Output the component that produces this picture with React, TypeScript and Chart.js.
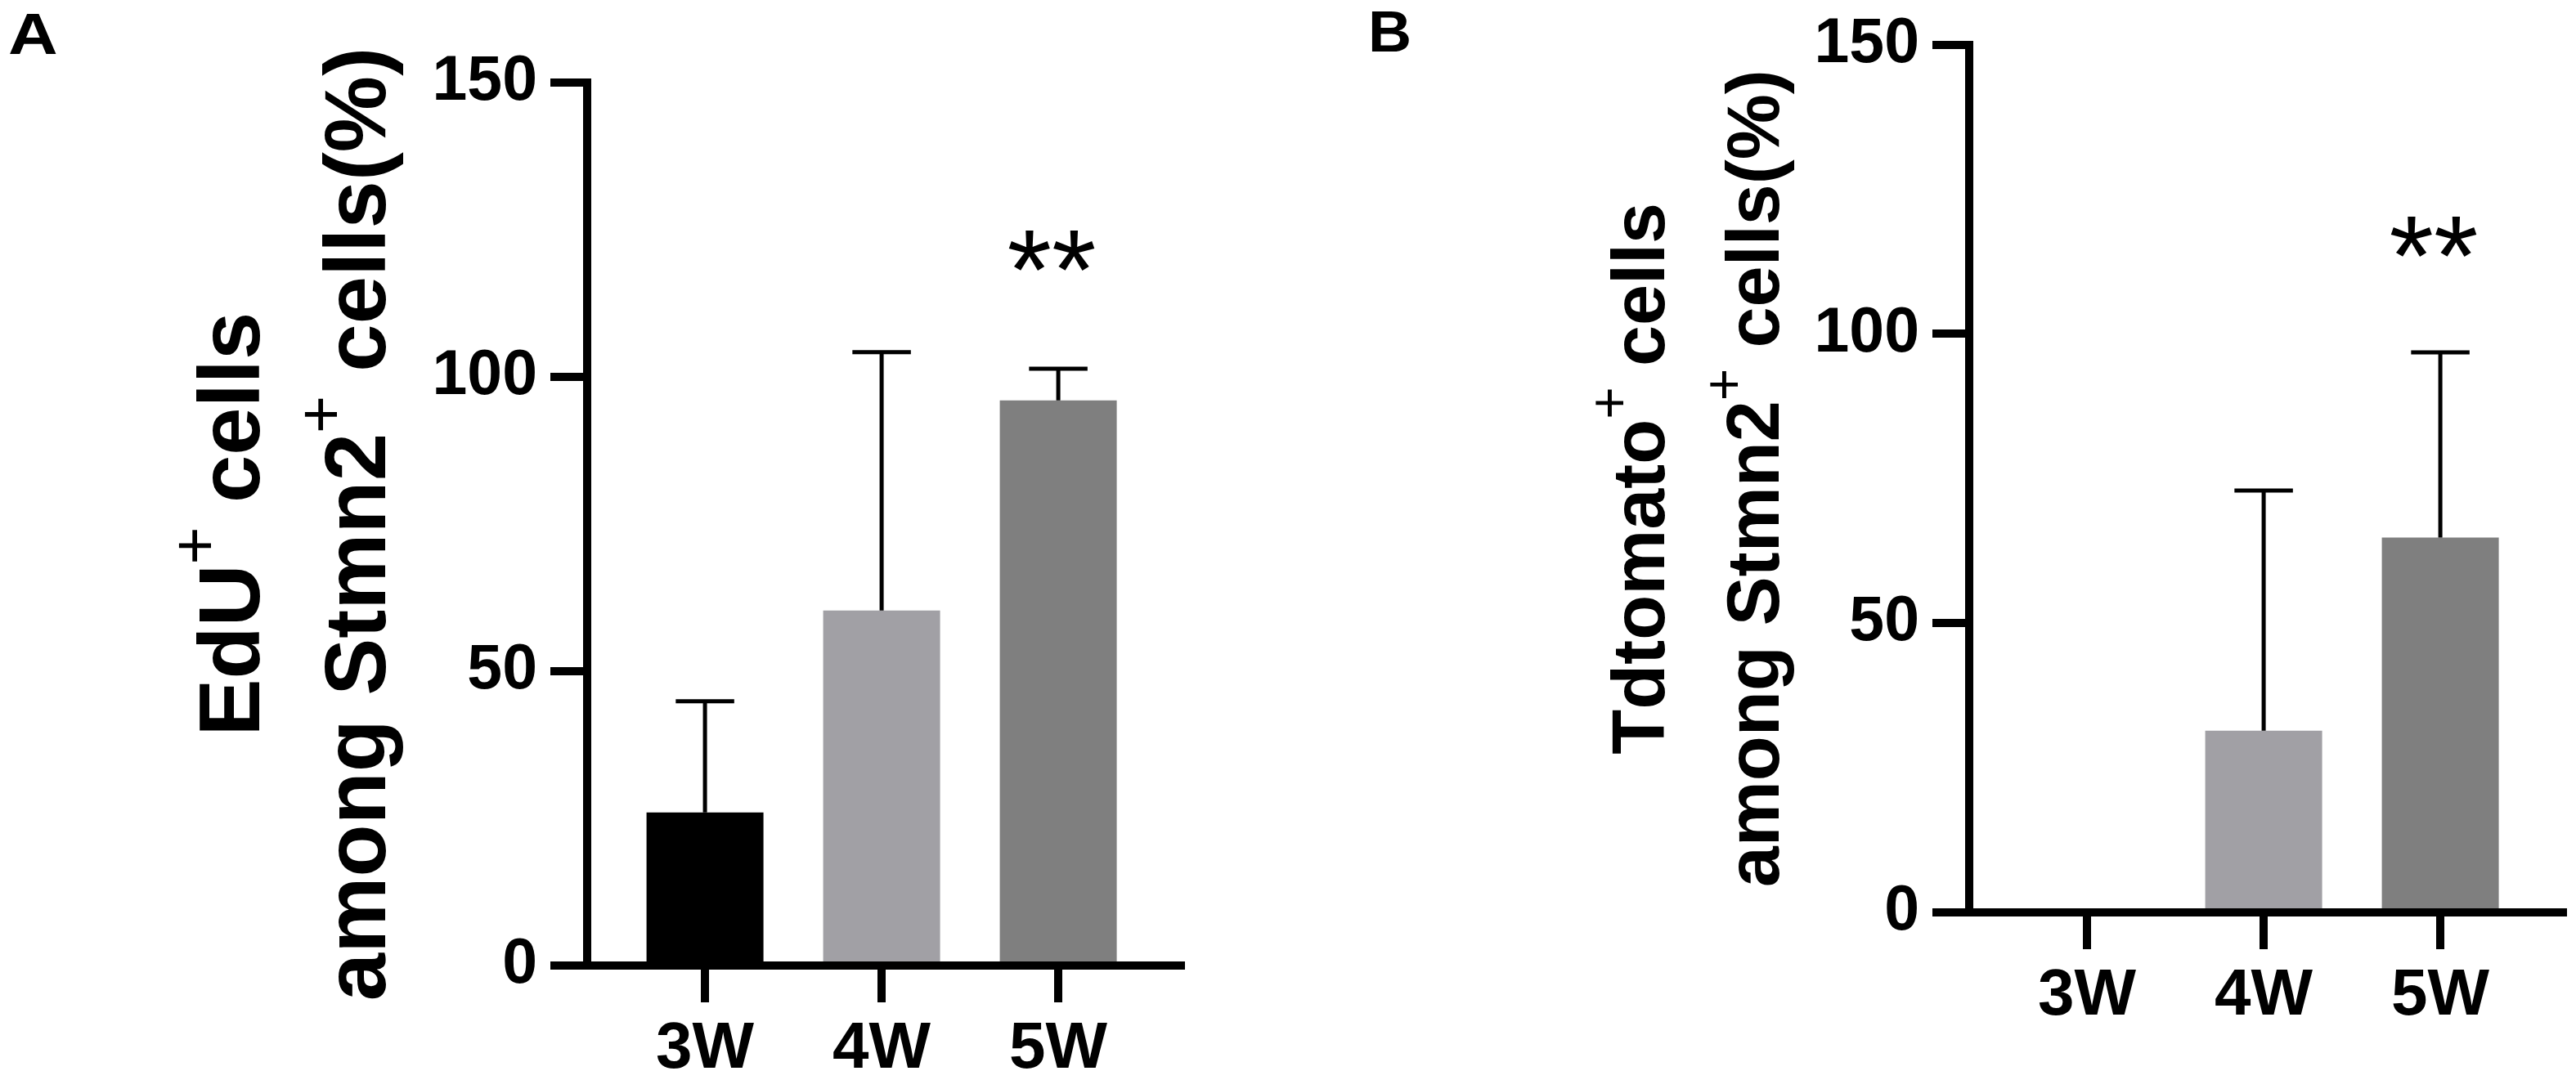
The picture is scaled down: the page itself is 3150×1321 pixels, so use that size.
import React, { useEffect, useRef } from 'react';
import { Chart, registerables } from 'chart.js';

Chart.register(...registerables);

// ---------- data ----------
const categories = ['3W', '4W', '5W'];
const yTicks = [0, 50, 100, 150];

const eduValues = [26, 60.3, 96];
const eduSD = [18.9, 43.9, 5.4];
const eduSig = ['', '', '**'];
const eduTitle = ['EdU⁺ cells', 'among Stmn2⁺ cells(%)'];

const tdValues = [0, 31.4, 64.8];
const tdSD = [0, 41.5, 32];
const tdSig = ['', '', '**'];
const tdTitle = ['Tdtomato⁺ cells', 'among Stmn2⁺ cells(%)'];

const barColors = ['#000000', '#a1a0a5', '#7f7f7f'];

const FONT = '"Liberation Sans", Arial, Helvetica, sans-serif';

type PanelCfg = {
  letter: string;
  letterX: number;
  letterY: number;
  letterSize: number;
  letterStretch: number;
  left: number;
  width: number;
  height: number;
  padTop: number;
  padRight: number;
  yAxisWidth: number;
  xAxisHeight: number;
  values: number[];
  sd: number[];
  sig: string[];
  title: string[];
  titleSize: number;
  titleX: number[];
};

const panels: PanelCfg[] = [
  {
    letter: 'A', letterX: 10, letterY: 66, letterSize: 70, letterStretch: 1.2,
    left: 0, width: 1575, height: 1321,
    padTop: 101, padRight: 131, yAxisWidth: 718, xAxisHeight: 140,
    values: eduValues, sd: eduSD, sig: eduSig,
    title: eduTitle, titleSize: 105, titleX: [279, 433],
  },
  {
    letter: 'B', letterX: 98, letterY: 63, letterSize: 70, letterStretch: 1.05,
    left: 1575, width: 1575, height: 1321,
    padTop: 39, padRight: 16, yAxisWidth: 833, xAxisHeight: 205,
    values: tdValues, sd: tdSD, sig: tdSig,
    title: tdTitle, titleSize: 90, titleX: [428, 568],
  },
];

function drawTitleLine(ctx: CanvasRenderingContext2D, text: string, size: number) {
  const parts = text.split('⁺');
  const segs: { t: string; sup: boolean }[] = [];
  parts.forEach((p, i) => {
    if (p) segs.push({ t: p, sup: false });
    if (i < parts.length - 1) segs.push({ t: '+', sup: true });
  });
  const mainFont = `bold ${size}px ${FONT}`;
  const supSize = Math.round(size * 0.75);
  const supFont = `normal ${supSize}px ${FONT}`;
  let total = 0;
  const widths = segs.map((s) => {
    ctx.font = s.sup ? supFont : mainFont;
    const w = ctx.measureText(s.t).width;
    total += w;
    return w;
  });
  let x = -total / 2;
  const base = 0.358 * size;
  segs.forEach((s, i) => {
    ctx.font = s.sup ? supFont : mainFont;
    const y = s.sup ? base - 0.716 * size + 0.3 * supSize : base;
    ctx.fillText(s.t, x, y);
    x += widths[i];
  });
}

function makeOverlay(cfg: PanelCfg) {
  return {
    id: 'overlay' + cfg.letter,
    afterDatasetsDraw(chart: any) {
      const ctx: CanvasRenderingContext2D = chart.ctx;
      const meta = chart.getDatasetMeta(0);
      const yScale = chart.scales.y;
      ctx.save();
      ctx.fillStyle = '#000';
      ctx.strokeStyle = '#000';
      ctx.lineWidth = 5;
      ctx.lineCap = 'butt';
      meta.data.forEach((el: any, i: number) => {
        const v = cfg.values[i];
        const sd = cfg.sd[i];
        if (sd > 0) {
          const top = yScale.getPixelForValue(v + sd);
          const base = yScale.getPixelForValue(v);
          const half = el.width * 0.25;
          ctx.beginPath();
          ctx.moveTo(el.x, base);
          ctx.lineTo(el.x, top);
          ctx.moveTo(el.x - half, top);
          ctx.lineTo(el.x + half, top);
          ctx.stroke();
        }
        const s = cfg.sig[i];
        if (s) {
          ctx.font = `normal 140px ${FONT}`;
          ctx.textAlign = 'center';
          ctx.textBaseline = 'alphabetic';
          const m = ctx.measureText(s);
          const cy = yScale.getPixelForValue(v + sd + 20);
          ctx.fillText(s, el.x - 8, cy + (m.actualBoundingBoxAscent - m.actualBoundingBoxDescent) / 2);
        }
      });
      // panel letter
      ctx.save();
      ctx.font = `bold ${cfg.letterSize}px ${FONT}`;
      ctx.textAlign = 'left';
      ctx.textBaseline = 'alphabetic';
      ctx.translate(cfg.letterX, cfg.letterY);
      ctx.scale(cfg.letterStretch, 1);
      ctx.fillText(cfg.letter, 0, 0);
      ctx.restore();
      // y-axis title, two rotated lines
      const area = chart.chartArea;
      const cy = (area.top + area.bottom) / 2;
      ctx.textAlign = 'left';
      ctx.textBaseline = 'alphabetic';
      cfg.title.forEach((line, i) => {
        ctx.save();
        ctx.translate(cfg.titleX[i], cy);
        ctx.rotate(-Math.PI / 2);
        drawTitleLine(ctx, line, cfg.titleSize);
        ctx.restore();
      });
      ctx.restore();
    },
  };
}

function PanelChart({ cfg }: { cfg: PanelCfg }) {
  const ref = useRef<HTMLCanvasElement>(null);
  useEffect(() => {
    if (!ref.current) return;
    const chart = new Chart(ref.current, {
      type: 'bar',
      data: {
        datasets: [
          {
            data: cfg.values.map((v, i) => ({ x: i + 1, y: v })),
            backgroundColor: barColors,
            borderWidth: 0,
            barPercentage: 0.662,
            categoryPercentage: 1,
          } as any,
        ],
      },
      options: {
        animation: false,
        responsive: false,
        devicePixelRatio: 1,
        layout: { padding: { left: 0, top: cfg.padTop, right: cfg.padRight, bottom: 0 } },
        plugins: { legend: { display: false }, tooltip: { enabled: false }, title: { display: false } },
        scales: {
          x: {
            type: 'linear',
            offset: false,
            min: 0.333,
            max: 3.694,
            afterBuildTicks: (s: any) => {
              s.ticks = categories.map((_, i) => ({ value: i + 1 }));
            },
            afterFit: (s: any) => {
              s.height = cfg.xAxisHeight;
            },
            ticks: {
              callback: (v: any) => categories[Number(v) - 1] ?? '',
              color: '#000',
              font: { family: FONT, size: 80, weight: 'bold' },
              padding: 10,
              maxRotation: 0,
              autoSkip: false,
            },
            grid: { display: true, offset: false, drawOnChartArea: false, drawTicks: true, tickLength: 45, lineWidth: 10, color: '#000' },
            border: { display: true, width: 10, color: '#000' },
          },
          y: {
            type: 'linear',
            min: 0,
            max: 150,
            afterBuildTicks: (s: any) => {
              s.ticks = yTicks.map((v) => ({ value: v }));
            },
            afterFit: (s: any) => {
              s.width = cfg.yAxisWidth;
            },
            ticks: {
              color: '#000',
              font: { family: FONT, size: 77, weight: 'bold', lineHeight: 1 },
              padding: 16,
            },
            grid: { display: true, drawOnChartArea: false, drawTicks: true, tickLength: 45, lineWidth: 10, color: '#000' },
            border: { display: true, width: 10, color: '#000' },
            title: { display: false },
          },
        },
      } as any,
      plugins: [makeOverlay(cfg)],
    });
    return () => chart.destroy();
  }, [cfg]);
  return (
    <canvas
      ref={ref}
      width={cfg.width}
      height={cfg.height}
      style={{ position: 'absolute', left: cfg.left, top: 0, width: cfg.width, height: cfg.height }}
    />
  );
}

export default function App() {
  return (
    <div style={{ position: 'absolute', left: 0, top: 0, width: 3150, height: 1321, background: '#fff', overflow: 'hidden' }}>
      {panels.map((p) => (
        <PanelChart key={p.letter} cfg={p} />
      ))}
    </div>
  );
}
